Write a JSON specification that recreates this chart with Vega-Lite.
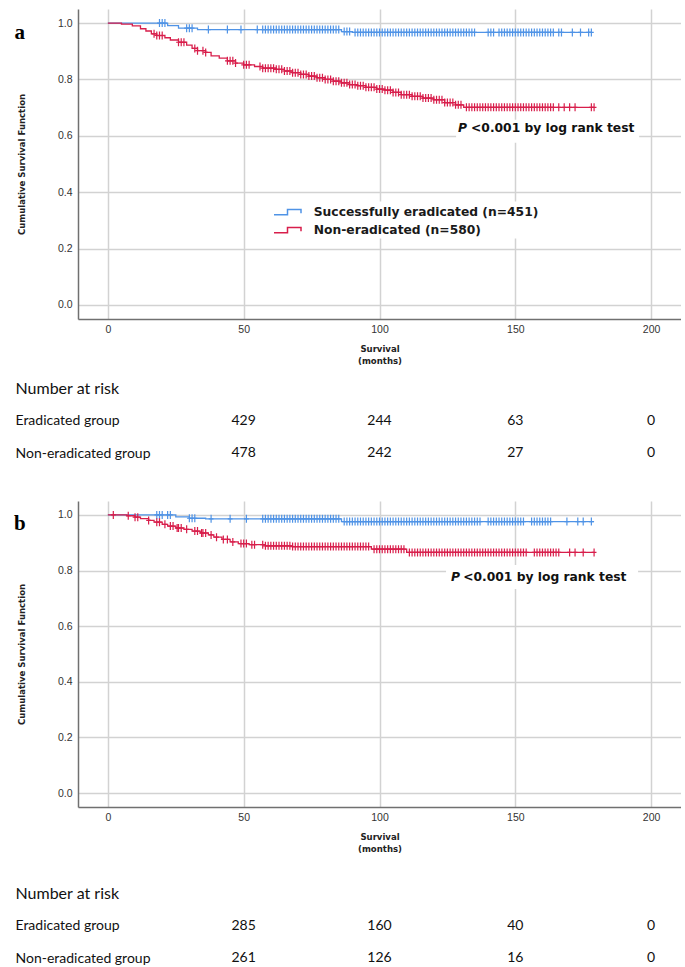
{
"$schema":"https://vega.github.io/schema/vega-lite/v6.json",
"padding":{"left":14,"top":9,"right":0,"bottom":0},
"background":"white",
"config":{"view":{"stroke":null},
"axis":{"gridColor":"#d2d2d2","gridWidth":1.5,"domainColor":"#707070","domainWidth":1.5,"ticks":false,"tickSize":0,"labelFont":"Liberation Sans","labelFontSize":10.5,"labelColor":"#333","titleFont":"Liberation Sans Narrow, DejaVu Sans Condensed, Liberation Sans","titleFontSize":9.5,"titleFontWeight":"bold","titleColor":"#222"}},
"datasets":{
"A":[
{"g":"E","t":0,"s":1,"c":0},{"g":"E","t":22,"s":0.991,"c":0},{"g":"E","t":26,"s":0.982,"c":0},{"g":"E","t":33,"s":0.977,"c":0},{"g":"E","t":86,"s":0.97,"c":0},{"g":"E","t":90,"s":0.967,"c":0},{"g":"E","t":178,"s":0.967,"c":0},
{"g":"E","t":19,"s":1,"c":1},{"g":"E","t":20,"s":1,"c":1},{"g":"E","t":21,"s":1,"c":1},
{"g":"E","t":29,"s":0.982,"c":1},{"g":"E","t":30,"s":0.982,"c":1},{"g":"E","t":31,"s":0.982,"c":1},
{"g":"E","t":37,"s":0.977,"c":1},{"g":"E","t":44,"s":0.977,"c":1},{"g":"E","t":49,"s":0.977,"c":1},{"g":"E","t":55,"s":0.977,"c":1},
{"g":"E","t":57,"s":0.977,"c":1},{"g":"E","t":58,"s":0.977,"c":1},{"g":"E","t":59,"s":0.977,"c":1},{"g":"E","t":60,"s":0.977,"c":1},{"g":"E","t":61,"s":0.977,"c":1},{"g":"E","t":62,"s":0.977,"c":1},{"g":"E","t":63,"s":0.977,"c":1},{"g":"E","t":64,"s":0.977,"c":1},{"g":"E","t":65,"s":0.977,"c":1},{"g":"E","t":66,"s":0.977,"c":1},{"g":"E","t":67,"s":0.977,"c":1},{"g":"E","t":68,"s":0.977,"c":1},{"g":"E","t":69,"s":0.977,"c":1},{"g":"E","t":70,"s":0.977,"c":1},{"g":"E","t":71,"s":0.977,"c":1},{"g":"E","t":72,"s":0.977,"c":1},{"g":"E","t":73,"s":0.977,"c":1},{"g":"E","t":74,"s":0.977,"c":1},{"g":"E","t":75,"s":0.977,"c":1},{"g":"E","t":76,"s":0.977,"c":1},{"g":"E","t":77,"s":0.977,"c":1},{"g":"E","t":78,"s":0.977,"c":1},{"g":"E","t":79,"s":0.977,"c":1},{"g":"E","t":80,"s":0.977,"c":1},{"g":"E","t":81,"s":0.977,"c":1},{"g":"E","t":82,"s":0.977,"c":1},{"g":"E","t":83,"s":0.977,"c":1},{"g":"E","t":84,"s":0.977,"c":1},{"g":"E","t":85,"s":0.977,"c":1},
{"g":"E","t":87,"s":0.97,"c":1},{"g":"E","t":88,"s":0.97,"c":1},{"g":"E","t":89,"s":0.97,"c":1},
{"g":"E","t":91,"s":0.967,"c":1},{"g":"E","t":92,"s":0.967,"c":1},{"g":"E","t":93,"s":0.967,"c":1},{"g":"E","t":94,"s":0.967,"c":1},{"g":"E","t":95,"s":0.967,"c":1},{"g":"E","t":96,"s":0.967,"c":1},{"g":"E","t":97,"s":0.967,"c":1},{"g":"E","t":98,"s":0.967,"c":1},{"g":"E","t":99,"s":0.967,"c":1},{"g":"E","t":100,"s":0.967,"c":1},{"g":"E","t":101,"s":0.967,"c":1},{"g":"E","t":102,"s":0.967,"c":1},{"g":"E","t":103,"s":0.967,"c":1},{"g":"E","t":104,"s":0.967,"c":1},{"g":"E","t":105,"s":0.967,"c":1},{"g":"E","t":106,"s":0.967,"c":1},{"g":"E","t":107,"s":0.967,"c":1},{"g":"E","t":108,"s":0.967,"c":1},{"g":"E","t":109,"s":0.967,"c":1},{"g":"E","t":110,"s":0.967,"c":1},{"g":"E","t":111,"s":0.967,"c":1},{"g":"E","t":112,"s":0.967,"c":1},{"g":"E","t":113,"s":0.967,"c":1},{"g":"E","t":114,"s":0.967,"c":1},{"g":"E","t":115,"s":0.967,"c":1},{"g":"E","t":116,"s":0.967,"c":1},{"g":"E","t":117,"s":0.967,"c":1},{"g":"E","t":118,"s":0.967,"c":1},{"g":"E","t":119,"s":0.967,"c":1},{"g":"E","t":120,"s":0.967,"c":1},{"g":"E","t":121,"s":0.967,"c":1},{"g":"E","t":122,"s":0.967,"c":1},{"g":"E","t":123,"s":0.967,"c":1},{"g":"E","t":124,"s":0.967,"c":1},{"g":"E","t":125,"s":0.967,"c":1},{"g":"E","t":126,"s":0.967,"c":1},{"g":"E","t":127,"s":0.967,"c":1},{"g":"E","t":128,"s":0.967,"c":1},{"g":"E","t":129,"s":0.967,"c":1},{"g":"E","t":130,"s":0.967,"c":1},{"g":"E","t":131,"s":0.967,"c":1},{"g":"E","t":132,"s":0.967,"c":1},{"g":"E","t":133,"s":0.967,"c":1},{"g":"E","t":134,"s":0.967,"c":1},{"g":"E","t":135,"s":0.967,"c":1},
{"g":"E","t":140,"s":0.967,"c":1},{"g":"E","t":141,"s":0.967,"c":1},{"g":"E","t":142,"s":0.967,"c":1},{"g":"E","t":144,"s":0.967,"c":1},{"g":"E","t":145,"s":0.967,"c":1},{"g":"E","t":146,"s":0.967,"c":1},{"g":"E","t":147,"s":0.967,"c":1},{"g":"E","t":148,"s":0.967,"c":1},{"g":"E","t":149,"s":0.967,"c":1},{"g":"E","t":150,"s":0.967,"c":1},{"g":"E","t":151,"s":0.967,"c":1},{"g":"E","t":152,"s":0.967,"c":1},{"g":"E","t":153,"s":0.967,"c":1},{"g":"E","t":154,"s":0.967,"c":1},{"g":"E","t":155,"s":0.967,"c":1},{"g":"E","t":156,"s":0.967,"c":1},{"g":"E","t":157,"s":0.967,"c":1},{"g":"E","t":158,"s":0.967,"c":1},{"g":"E","t":159,"s":0.967,"c":1},{"g":"E","t":160,"s":0.967,"c":1},{"g":"E","t":161,"s":0.967,"c":1},{"g":"E","t":162,"s":0.967,"c":1},{"g":"E","t":163,"s":0.967,"c":1},{"g":"E","t":164,"s":0.967,"c":1},{"g":"E","t":166,"s":0.967,"c":1},{"g":"E","t":167,"s":0.967,"c":1},{"g":"E","t":171,"s":0.967,"c":1},{"g":"E","t":174,"s":0.967,"c":1},{"g":"E","t":177,"s":0.967,"c":1},{"g":"E","t":178,"s":0.967,"c":1},
{"g":"N","t":0,"s":1,"c":0},{"g":"N","t":5,"s":0.996,"c":0},{"g":"N","t":9,"s":0.99,"c":0},{"g":"N","t":12,"s":0.98,"c":0},{"g":"N","t":14,"s":0.972,"c":0},{"g":"N","t":16,"s":0.962,"c":0},{"g":"N","t":18,"s":0.956,"c":0},{"g":"N","t":21,"s":0.948,"c":0},{"g":"N","t":23,"s":0.94,"c":0},{"g":"N","t":26,"s":0.932,"c":0},{"g":"N","t":29,"s":0.922,"c":0},{"g":"N","t":31,"s":0.91,"c":0},{"g":"N","t":33,"s":0.902,"c":0},{"g":"N","t":36,"s":0.896,"c":0},{"g":"N","t":38,"s":0.884,"c":0},{"g":"N","t":41,"s":0.876,"c":0},{"g":"N","t":44,"s":0.866,"c":0},{"g":"N","t":47,"s":0.858,"c":0},{"g":"N","t":50,"s":0.852,"c":0},{"g":"N","t":54,"s":0.846,"c":0},{"g":"N","t":57,"s":0.84,"c":0},{"g":"N","t":62,"s":0.836,"c":0},{"g":"N","t":65,"s":0.83,"c":0},{"g":"N","t":68,"s":0.824,"c":0},{"g":"N","t":71,"s":0.818,"c":0},{"g":"N","t":74,"s":0.812,"c":0},{"g":"N","t":77,"s":0.806,"c":0},{"g":"N","t":80,"s":0.8,"c":0},{"g":"N","t":83,"s":0.794,"c":0},{"g":"N","t":86,"s":0.788,"c":0},{"g":"N","t":89,"s":0.782,"c":0},{"g":"N","t":92,"s":0.778,"c":0},{"g":"N","t":95,"s":0.772,"c":0},{"g":"N","t":99,"s":0.766,"c":0},{"g":"N","t":102,"s":0.762,"c":0},{"g":"N","t":105,"s":0.754,"c":0},{"g":"N","t":108,"s":0.746,"c":0},{"g":"N","t":112,"s":0.74,"c":0},{"g":"N","t":116,"s":0.734,"c":0},{"g":"N","t":120,"s":0.728,"c":0},{"g":"N","t":124,"s":0.718,"c":0},{"g":"N","t":128,"s":0.71,"c":0},{"g":"N","t":131,"s":0.701,"c":0},{"g":"N","t":179,"s":0.701,"c":0},
{"g":"N","t":17,"s":0.962,"c":1},{"g":"N","t":18,"s":0.956,"c":1},{"g":"N","t":19,"s":0.956,"c":1},{"g":"N","t":20,"s":0.956,"c":1},{"g":"N","t":26,"s":0.932,"c":1},{"g":"N","t":27,"s":0.932,"c":1},{"g":"N","t":28,"s":0.932,"c":1},{"g":"N","t":32,"s":0.91,"c":1},{"g":"N","t":33,"s":0.902,"c":1},{"g":"N","t":35,"s":0.902,"c":1},{"g":"N","t":36,"s":0.896,"c":1},{"g":"N","t":44,"s":0.866,"c":1},{"g":"N","t":45,"s":0.866,"c":1},{"g":"N","t":46,"s":0.866,"c":1},{"g":"N","t":47,"s":0.858,"c":1},{"g":"N","t":50,"s":0.852,"c":1},{"g":"N","t":51,"s":0.852,"c":1},{"g":"N","t":52,"s":0.852,"c":1},{"g":"N","t":56,"s":0.846,"c":1},
{"g":"N","t":57,"s":0.84,"c":1},{"g":"N","t":58,"s":0.84,"c":1},{"g":"N","t":59,"s":0.84,"c":1},{"g":"N","t":60,"s":0.84,"c":1},{"g":"N","t":61,"s":0.84,"c":1},{"g":"N","t":62,"s":0.836,"c":1},{"g":"N","t":63,"s":0.836,"c":1},{"g":"N","t":64,"s":0.836,"c":1},{"g":"N","t":65,"s":0.83,"c":1},{"g":"N","t":66,"s":0.83,"c":1},{"g":"N","t":67,"s":0.83,"c":1},{"g":"N","t":68,"s":0.824,"c":1},{"g":"N","t":69,"s":0.824,"c":1},{"g":"N","t":70,"s":0.824,"c":1},{"g":"N","t":71,"s":0.818,"c":1},{"g":"N","t":72,"s":0.818,"c":1},{"g":"N","t":73,"s":0.818,"c":1},{"g":"N","t":74,"s":0.812,"c":1},{"g":"N","t":75,"s":0.812,"c":1},{"g":"N","t":76,"s":0.812,"c":1},{"g":"N","t":77,"s":0.806,"c":1},{"g":"N","t":78,"s":0.806,"c":1},{"g":"N","t":79,"s":0.806,"c":1},{"g":"N","t":80,"s":0.8,"c":1},{"g":"N","t":81,"s":0.8,"c":1},{"g":"N","t":82,"s":0.8,"c":1},{"g":"N","t":83,"s":0.794,"c":1},{"g":"N","t":84,"s":0.794,"c":1},{"g":"N","t":85,"s":0.794,"c":1},{"g":"N","t":86,"s":0.788,"c":1},{"g":"N","t":87,"s":0.788,"c":1},{"g":"N","t":88,"s":0.788,"c":1},{"g":"N","t":89,"s":0.782,"c":1},{"g":"N","t":90,"s":0.782,"c":1},{"g":"N","t":91,"s":0.782,"c":1},{"g":"N","t":92,"s":0.778,"c":1},{"g":"N","t":93,"s":0.778,"c":1},{"g":"N","t":94,"s":0.778,"c":1},{"g":"N","t":95,"s":0.772,"c":1},{"g":"N","t":96,"s":0.772,"c":1},{"g":"N","t":97,"s":0.772,"c":1},{"g":"N","t":98,"s":0.772,"c":1},{"g":"N","t":99,"s":0.766,"c":1},{"g":"N","t":100,"s":0.766,"c":1},{"g":"N","t":101,"s":0.766,"c":1},{"g":"N","t":102,"s":0.762,"c":1},{"g":"N","t":103,"s":0.762,"c":1},{"g":"N","t":104,"s":0.762,"c":1},{"g":"N","t":105,"s":0.754,"c":1},{"g":"N","t":106,"s":0.754,"c":1},{"g":"N","t":107,"s":0.754,"c":1},{"g":"N","t":108,"s":0.746,"c":1},{"g":"N","t":109,"s":0.746,"c":1},{"g":"N","t":110,"s":0.746,"c":1},{"g":"N","t":111,"s":0.746,"c":1},{"g":"N","t":112,"s":0.74,"c":1},{"g":"N","t":113,"s":0.74,"c":1},{"g":"N","t":114,"s":0.74,"c":1},{"g":"N","t":115,"s":0.74,"c":1},{"g":"N","t":116,"s":0.734,"c":1},{"g":"N","t":117,"s":0.734,"c":1},{"g":"N","t":118,"s":0.734,"c":1},{"g":"N","t":119,"s":0.734,"c":1},{"g":"N","t":120,"s":0.728,"c":1},{"g":"N","t":121,"s":0.728,"c":1},{"g":"N","t":122,"s":0.728,"c":1},{"g":"N","t":123,"s":0.728,"c":1},{"g":"N","t":124,"s":0.718,"c":1},{"g":"N","t":125,"s":0.718,"c":1},{"g":"N","t":126,"s":0.718,"c":1},{"g":"N","t":127,"s":0.718,"c":1},{"g":"N","t":128,"s":0.71,"c":1},{"g":"N","t":129,"s":0.71,"c":1},{"g":"N","t":130,"s":0.71,"c":1},
{"g":"N","t":132,"s":0.701,"c":1},{"g":"N","t":133,"s":0.701,"c":1},{"g":"N","t":134,"s":0.701,"c":1},{"g":"N","t":135,"s":0.701,"c":1},{"g":"N","t":136,"s":0.701,"c":1},{"g":"N","t":137,"s":0.701,"c":1},{"g":"N","t":138,"s":0.701,"c":1},{"g":"N","t":139,"s":0.701,"c":1},{"g":"N","t":140,"s":0.701,"c":1},{"g":"N","t":141,"s":0.701,"c":1},{"g":"N","t":142,"s":0.701,"c":1},{"g":"N","t":143,"s":0.701,"c":1},{"g":"N","t":144,"s":0.701,"c":1},{"g":"N","t":145,"s":0.701,"c":1},{"g":"N","t":146,"s":0.701,"c":1},{"g":"N","t":147,"s":0.701,"c":1},{"g":"N","t":148,"s":0.701,"c":1},{"g":"N","t":149,"s":0.701,"c":1},{"g":"N","t":150,"s":0.701,"c":1},{"g":"N","t":151,"s":0.701,"c":1},{"g":"N","t":152,"s":0.701,"c":1},{"g":"N","t":153,"s":0.701,"c":1},{"g":"N","t":154,"s":0.701,"c":1},{"g":"N","t":155,"s":0.701,"c":1},{"g":"N","t":156,"s":0.701,"c":1},{"g":"N","t":157,"s":0.701,"c":1},{"g":"N","t":158,"s":0.701,"c":1},{"g":"N","t":159,"s":0.701,"c":1},{"g":"N","t":160,"s":0.701,"c":1},{"g":"N","t":161,"s":0.701,"c":1},{"g":"N","t":162,"s":0.701,"c":1},{"g":"N","t":163,"s":0.701,"c":1},{"g":"N","t":164,"s":0.701,"c":1},{"g":"N","t":166,"s":0.701,"c":1},{"g":"N","t":168,"s":0.701,"c":1},{"g":"N","t":170,"s":0.701,"c":1},{"g":"N","t":172,"s":0.701,"c":1},{"g":"N","t":178,"s":0.701,"c":1},{"g":"N","t":179,"s":0.701,"c":1}
],
"B":[
{"g":"E","t":0,"s":1,"c":0},{"g":"E","t":25,"s":0.993,"c":0},{"g":"E","t":30,"s":0.988,"c":0},{"g":"E","t":36,"s":0.986,"c":0},{"g":"E","t":86,"s":0.976,"c":0},{"g":"E","t":179,"s":0.976,"c":0},
{"g":"E","t":18,"s":1,"c":1},{"g":"E","t":19,"s":1,"c":1},{"g":"E","t":20,"s":1,"c":1},{"g":"E","t":22,"s":1,"c":1},{"g":"E","t":23,"s":1,"c":1},
{"g":"E","t":30,"s":0.988,"c":1},{"g":"E","t":31,"s":0.988,"c":1},{"g":"E","t":32,"s":0.988,"c":1},
{"g":"E","t":38,"s":0.986,"c":1},{"g":"E","t":45,"s":0.986,"c":1},{"g":"E","t":51,"s":0.986,"c":1},
{"g":"E","t":57,"s":0.986,"c":1},{"g":"E","t":58,"s":0.986,"c":1},{"g":"E","t":59,"s":0.986,"c":1},{"g":"E","t":60,"s":0.986,"c":1},{"g":"E","t":61,"s":0.986,"c":1},{"g":"E","t":62,"s":0.986,"c":1},{"g":"E","t":63,"s":0.986,"c":1},{"g":"E","t":64,"s":0.986,"c":1},{"g":"E","t":65,"s":0.986,"c":1},{"g":"E","t":66,"s":0.986,"c":1},{"g":"E","t":67,"s":0.986,"c":1},{"g":"E","t":68,"s":0.986,"c":1},{"g":"E","t":69,"s":0.986,"c":1},{"g":"E","t":70,"s":0.986,"c":1},{"g":"E","t":71,"s":0.986,"c":1},{"g":"E","t":72,"s":0.986,"c":1},{"g":"E","t":73,"s":0.986,"c":1},{"g":"E","t":74,"s":0.986,"c":1},{"g":"E","t":75,"s":0.986,"c":1},{"g":"E","t":76,"s":0.986,"c":1},{"g":"E","t":77,"s":0.986,"c":1},{"g":"E","t":78,"s":0.986,"c":1},{"g":"E","t":79,"s":0.986,"c":1},{"g":"E","t":80,"s":0.986,"c":1},{"g":"E","t":81,"s":0.986,"c":1},{"g":"E","t":82,"s":0.986,"c":1},{"g":"E","t":83,"s":0.986,"c":1},{"g":"E","t":84,"s":0.986,"c":1},{"g":"E","t":85,"s":0.986,"c":1},
{"g":"E","t":87,"s":0.976,"c":1},{"g":"E","t":88,"s":0.976,"c":1},{"g":"E","t":89,"s":0.976,"c":1},{"g":"E","t":90,"s":0.976,"c":1},{"g":"E","t":91,"s":0.976,"c":1},{"g":"E","t":92,"s":0.976,"c":1},{"g":"E","t":93,"s":0.976,"c":1},{"g":"E","t":94,"s":0.976,"c":1},{"g":"E","t":95,"s":0.976,"c":1},{"g":"E","t":96,"s":0.976,"c":1},{"g":"E","t":97,"s":0.976,"c":1},{"g":"E","t":98,"s":0.976,"c":1},{"g":"E","t":99,"s":0.976,"c":1},{"g":"E","t":100,"s":0.976,"c":1},{"g":"E","t":101,"s":0.976,"c":1},{"g":"E","t":102,"s":0.976,"c":1},{"g":"E","t":103,"s":0.976,"c":1},{"g":"E","t":104,"s":0.976,"c":1},{"g":"E","t":105,"s":0.976,"c":1},{"g":"E","t":106,"s":0.976,"c":1},{"g":"E","t":107,"s":0.976,"c":1},{"g":"E","t":108,"s":0.976,"c":1},{"g":"E","t":109,"s":0.976,"c":1},{"g":"E","t":110,"s":0.976,"c":1},{"g":"E","t":111,"s":0.976,"c":1},{"g":"E","t":112,"s":0.976,"c":1},{"g":"E","t":113,"s":0.976,"c":1},{"g":"E","t":114,"s":0.976,"c":1},{"g":"E","t":115,"s":0.976,"c":1},{"g":"E","t":116,"s":0.976,"c":1},{"g":"E","t":117,"s":0.976,"c":1},{"g":"E","t":118,"s":0.976,"c":1},{"g":"E","t":119,"s":0.976,"c":1},{"g":"E","t":120,"s":0.976,"c":1},{"g":"E","t":121,"s":0.976,"c":1},{"g":"E","t":122,"s":0.976,"c":1},{"g":"E","t":123,"s":0.976,"c":1},{"g":"E","t":124,"s":0.976,"c":1},{"g":"E","t":125,"s":0.976,"c":1},{"g":"E","t":126,"s":0.976,"c":1},{"g":"E","t":127,"s":0.976,"c":1},{"g":"E","t":128,"s":0.976,"c":1},{"g":"E","t":129,"s":0.976,"c":1},{"g":"E","t":130,"s":0.976,"c":1},{"g":"E","t":131,"s":0.976,"c":1},{"g":"E","t":132,"s":0.976,"c":1},{"g":"E","t":133,"s":0.976,"c":1},{"g":"E","t":134,"s":0.976,"c":1},{"g":"E","t":135,"s":0.976,"c":1},{"g":"E","t":136,"s":0.976,"c":1},{"g":"E","t":137,"s":0.976,"c":1},
{"g":"E","t":140,"s":0.976,"c":1},{"g":"E","t":141,"s":0.976,"c":1},{"g":"E","t":142,"s":0.976,"c":1},{"g":"E","t":143,"s":0.976,"c":1},{"g":"E","t":144,"s":0.976,"c":1},{"g":"E","t":145,"s":0.976,"c":1},{"g":"E","t":146,"s":0.976,"c":1},{"g":"E","t":147,"s":0.976,"c":1},{"g":"E","t":148,"s":0.976,"c":1},{"g":"E","t":149,"s":0.976,"c":1},{"g":"E","t":150,"s":0.976,"c":1},{"g":"E","t":151,"s":0.976,"c":1},{"g":"E","t":152,"s":0.976,"c":1},{"g":"E","t":153,"s":0.976,"c":1},
{"g":"E","t":156,"s":0.976,"c":1},{"g":"E","t":157,"s":0.976,"c":1},{"g":"E","t":158,"s":0.976,"c":1},{"g":"E","t":159,"s":0.976,"c":1},{"g":"E","t":160,"s":0.976,"c":1},{"g":"E","t":161,"s":0.976,"c":1},{"g":"E","t":162,"s":0.976,"c":1},{"g":"E","t":163,"s":0.976,"c":1},{"g":"E","t":169,"s":0.976,"c":1},{"g":"E","t":173,"s":0.976,"c":1},{"g":"E","t":175,"s":0.976,"c":1},{"g":"E","t":178,"s":0.976,"c":1},
{"g":"N","t":0,"s":1,"c":0},{"g":"N","t":7,"s":0.997,"c":0},{"g":"N","t":10,"s":0.992,"c":0},{"g":"N","t":12,"s":0.987,"c":0},{"g":"N","t":15,"s":0.98,"c":0},{"g":"N","t":17,"s":0.974,"c":0},{"g":"N","t":20,"s":0.966,"c":0},{"g":"N","t":22,"s":0.96,"c":0},{"g":"N","t":25,"s":0.953,"c":0},{"g":"N","t":28,"s":0.948,"c":0},{"g":"N","t":31,"s":0.942,"c":0},{"g":"N","t":34,"s":0.935,"c":0},{"g":"N","t":37,"s":0.928,"c":0},{"g":"N","t":39,"s":0.92,"c":0},{"g":"N","t":42,"s":0.912,"c":0},{"g":"N","t":45,"s":0.903,"c":0},{"g":"N","t":48,"s":0.897,"c":0},{"g":"N","t":52,"s":0.893,"c":0},{"g":"N","t":58,"s":0.889,"c":0},{"g":"N","t":68,"s":0.886,"c":0},{"g":"N","t":97,"s":0.877,"c":0},{"g":"N","t":110,"s":0.865,"c":0},{"g":"N","t":179,"s":0.865,"c":0},
{"g":"N","t":2,"s":1,"c":1},{"g":"N","t":7.5,"s":0.997,"c":1},{"g":"N","t":10,"s":0.992,"c":1},{"g":"N","t":11,"s":0.992,"c":1},{"g":"N","t":15,"s":0.98,"c":1},{"g":"N","t":18,"s":0.974,"c":1},{"g":"N","t":19,"s":0.974,"c":1},{"g":"N","t":21,"s":0.966,"c":1},{"g":"N","t":23,"s":0.96,"c":1},{"g":"N","t":24,"s":0.96,"c":1},{"g":"N","t":25.5,"s":0.953,"c":1},{"g":"N","t":26,"s":0.953,"c":1},{"g":"N","t":27,"s":0.953,"c":1},{"g":"N","t":29,"s":0.948,"c":1},{"g":"N","t":32,"s":0.942,"c":1},{"g":"N","t":33,"s":0.942,"c":1},{"g":"N","t":34.5,"s":0.935,"c":1},{"g":"N","t":35,"s":0.935,"c":1},{"g":"N","t":36,"s":0.935,"c":1},{"g":"N","t":38,"s":0.928,"c":1},{"g":"N","t":40,"s":0.92,"c":1},{"g":"N","t":42.5,"s":0.912,"c":1},{"g":"N","t":44,"s":0.912,"c":1},{"g":"N","t":46,"s":0.903,"c":1},{"g":"N","t":49,"s":0.897,"c":1},{"g":"N","t":50,"s":0.897,"c":1},{"g":"N","t":51,"s":0.897,"c":1},{"g":"N","t":53,"s":0.893,"c":1},{"g":"N","t":54,"s":0.893,"c":1},{"g":"N","t":57,"s":0.893,"c":1},
{"g":"N","t":58,"s":0.889,"c":1},{"g":"N","t":59,"s":0.889,"c":1},{"g":"N","t":60,"s":0.889,"c":1},{"g":"N","t":61,"s":0.889,"c":1},{"g":"N","t":62,"s":0.889,"c":1},{"g":"N","t":63,"s":0.889,"c":1},{"g":"N","t":64,"s":0.889,"c":1},{"g":"N","t":65,"s":0.889,"c":1},{"g":"N","t":66,"s":0.889,"c":1},{"g":"N","t":67,"s":0.889,"c":1},
{"g":"N","t":68,"s":0.886,"c":1},{"g":"N","t":69,"s":0.886,"c":1},{"g":"N","t":70,"s":0.886,"c":1},{"g":"N","t":71,"s":0.886,"c":1},{"g":"N","t":72,"s":0.886,"c":1},{"g":"N","t":73,"s":0.886,"c":1},{"g":"N","t":74,"s":0.886,"c":1},{"g":"N","t":75,"s":0.886,"c":1},{"g":"N","t":76,"s":0.886,"c":1},{"g":"N","t":77,"s":0.886,"c":1},{"g":"N","t":78,"s":0.886,"c":1},{"g":"N","t":79,"s":0.886,"c":1},{"g":"N","t":80,"s":0.886,"c":1},{"g":"N","t":81,"s":0.886,"c":1},{"g":"N","t":82,"s":0.886,"c":1},{"g":"N","t":83,"s":0.886,"c":1},{"g":"N","t":84,"s":0.886,"c":1},{"g":"N","t":85,"s":0.886,"c":1},{"g":"N","t":86,"s":0.886,"c":1},{"g":"N","t":87,"s":0.886,"c":1},{"g":"N","t":88,"s":0.886,"c":1},{"g":"N","t":89,"s":0.886,"c":1},{"g":"N","t":90,"s":0.886,"c":1},{"g":"N","t":91,"s":0.886,"c":1},{"g":"N","t":92,"s":0.886,"c":1},{"g":"N","t":93,"s":0.886,"c":1},{"g":"N","t":94,"s":0.886,"c":1},{"g":"N","t":95,"s":0.886,"c":1},{"g":"N","t":96,"s":0.886,"c":1},
{"g":"N","t":98,"s":0.877,"c":1},{"g":"N","t":99,"s":0.877,"c":1},{"g":"N","t":100,"s":0.877,"c":1},{"g":"N","t":101,"s":0.877,"c":1},{"g":"N","t":102,"s":0.877,"c":1},{"g":"N","t":103,"s":0.877,"c":1},{"g":"N","t":104,"s":0.877,"c":1},{"g":"N","t":105,"s":0.877,"c":1},{"g":"N","t":106,"s":0.877,"c":1},{"g":"N","t":107,"s":0.877,"c":1},{"g":"N","t":108,"s":0.877,"c":1},{"g":"N","t":109,"s":0.877,"c":1},
{"g":"N","t":111,"s":0.865,"c":1},{"g":"N","t":112,"s":0.865,"c":1},{"g":"N","t":113,"s":0.865,"c":1},{"g":"N","t":114,"s":0.865,"c":1},{"g":"N","t":115,"s":0.865,"c":1},{"g":"N","t":116,"s":0.865,"c":1},{"g":"N","t":117,"s":0.865,"c":1},{"g":"N","t":118,"s":0.865,"c":1},{"g":"N","t":119,"s":0.865,"c":1},{"g":"N","t":120,"s":0.865,"c":1},{"g":"N","t":121,"s":0.865,"c":1},{"g":"N","t":122,"s":0.865,"c":1},{"g":"N","t":123,"s":0.865,"c":1},{"g":"N","t":124,"s":0.865,"c":1},{"g":"N","t":125,"s":0.865,"c":1},{"g":"N","t":126,"s":0.865,"c":1},{"g":"N","t":127,"s":0.865,"c":1},{"g":"N","t":128,"s":0.865,"c":1},{"g":"N","t":129,"s":0.865,"c":1},{"g":"N","t":130,"s":0.865,"c":1},{"g":"N","t":131,"s":0.865,"c":1},{"g":"N","t":132,"s":0.865,"c":1},{"g":"N","t":133,"s":0.865,"c":1},{"g":"N","t":134,"s":0.865,"c":1},{"g":"N","t":135,"s":0.865,"c":1},{"g":"N","t":136,"s":0.865,"c":1},{"g":"N","t":137,"s":0.865,"c":1},{"g":"N","t":138,"s":0.865,"c":1},{"g":"N","t":139,"s":0.865,"c":1},{"g":"N","t":140,"s":0.865,"c":1},{"g":"N","t":141,"s":0.865,"c":1},{"g":"N","t":142,"s":0.865,"c":1},{"g":"N","t":143,"s":0.865,"c":1},{"g":"N","t":144,"s":0.865,"c":1},{"g":"N","t":145,"s":0.865,"c":1},{"g":"N","t":146,"s":0.865,"c":1},{"g":"N","t":147,"s":0.865,"c":1},{"g":"N","t":148,"s":0.865,"c":1},{"g":"N","t":149,"s":0.865,"c":1},{"g":"N","t":150,"s":0.865,"c":1},{"g":"N","t":151,"s":0.865,"c":1},{"g":"N","t":152,"s":0.865,"c":1},{"g":"N","t":153,"s":0.865,"c":1},{"g":"N","t":154,"s":0.865,"c":1},
{"g":"N","t":157,"s":0.865,"c":1},{"g":"N","t":158,"s":0.865,"c":1},{"g":"N","t":159,"s":0.865,"c":1},{"g":"N","t":160,"s":0.865,"c":1},{"g":"N","t":161,"s":0.865,"c":1},{"g":"N","t":162,"s":0.865,"c":1},{"g":"N","t":163,"s":0.865,"c":1},{"g":"N","t":164,"s":0.865,"c":1},{"g":"N","t":165,"s":0.865,"c":1},{"g":"N","t":166,"s":0.865,"c":1},{"g":"N","t":170,"s":0.865,"c":1},{"g":"N","t":172,"s":0.865,"c":1},{"g":"N","t":175,"s":0.865,"c":1},{"g":"N","t":179,"s":0.865,"c":1}
],
"TA":[
{"row":"Eradicated group","t":50,"n":429},{"row":"Eradicated group","t":100,"n":244},{"row":"Eradicated group","t":150,"n":63},{"row":"Eradicated group","t":200,"n":0},
{"row":"Non-eradicated group","t":50,"n":478},{"row":"Non-eradicated group","t":100,"n":242},{"row":"Non-eradicated group","t":150,"n":27},{"row":"Non-eradicated group","t":200,"n":0}
],
"TB":[
{"row":"Eradicated group","t":50,"n":285},{"row":"Eradicated group","t":100,"n":160},{"row":"Eradicated group","t":150,"n":40},{"row":"Eradicated group","t":200,"n":0},
{"row":"Non-eradicated group","t":50,"n":261},{"row":"Non-eradicated group","t":100,"n":126},{"row":"Non-eradicated group","t":150,"n":16},{"row":"Non-eradicated group","t":200,"n":0}
]
},
"spacing":31,
"vconcat":[
{"spacing":7,"vconcat":[
{"width":603,"height":310,
"layer":[
{"data":{"name":"A"},"transform":[{"filter":"datum.c==0"}],
"mark":{"type":"line","interpolate":"step-after","strokeWidth":1.3},
"encoding":{
"x":{"field":"t","type":"quantitative","scale":{"domain":[-11,211],"nice":false,"zero":false},"axis":{"values":[0,50,100,150,200],"title":["Survival","(months)"],"labelPadding":5,"titlePadding":9,"titleLineHeight":12}},
"y":{"field":"s","type":"quantitative","scale":{"domain":[-0.05,1.05],"nice":false,"zero":false},"axis":{"values":[0,0.2,0.4,0.6,0.8,1],"format":".1f","title":"Cumulative Survival Function","labelPadding":6,"titlePadding":31}},
"color":{"field":"g","type":"nominal","scale":{"domain":["E","N"],"range":["#4f93e6","#d81e4b"]},"legend":{"orient":"none","legendX":199.75,"legendY":192.5,"title":null,"symbolType":"M-1.9,0.35H-0.1V-0.35H1.7V0.15","symbolSize":225,"symbolStrokeWidth":1.5,"symbolOpacity":0.6,"labelFont":"DejaVu Sans","labelFontSize":12.3,"labelFontWeight":"bold","labelColor":"#1a1a1a","labelOffset":17,"labelLimit":400,"rowPadding":3,"padding":2,"fillColor":"white","labelExpr":"datum.value=='E'?'Successfully eradicated (n=451)':'Non-eradicated (n=580)'"}},
"order":{"field":"t","type":"quantitative"}}},
{"data":{"name":"A"},"transform":[{"filter":"datum.c==1"}],
"mark":{"type":"point","shape":"M0,-1V1M-0.6,0H0.6","size":64,"filled":false,"strokeWidth":1.2,"opacity":1},
"encoding":{"x":{"field":"t","type":"quantitative"},"y":{"field":"s","type":"quantitative"},"color":{"field":"g","type":"nominal"}}},
{"data":{"values":[{"t":128.2,"t2":195.6,"s":0.657,"s2":0.575}]},
"mark":{"type":"rect","fill":"white"},
"encoding":{"x":{"field":"t","type":"quantitative"},"x2":{"field":"t2"},"y":{"field":"s","type":"quantitative"},"y2":{"field":"s2"}}},
{"data":{"values":[{"t":128.9,"s":0.628,"txt":"P"}]},
"mark":{"type":"text","align":"left","baseline":"middle","font":"DejaVu Sans","fontSize":12.3,"fontWeight":"bold","fontStyle":"italic","color":"#111"},
"encoding":{"x":{"field":"t","type":"quantitative"},"y":{"field":"s","type":"quantitative"},"text":{"field":"txt"}}},
{"data":{"values":[{"t":133.7,"s":0.628,"txt":"<0.001 by log rank test"}]},
"mark":{"type":"text","align":"left","baseline":"middle","font":"DejaVu Sans","fontSize":12.3,"fontWeight":"bold","color":"#111"},
"encoding":{"x":{"field":"t","type":"quantitative"},"y":{"field":"s","type":"quantitative"},"text":{"field":"txt"}}},
{"data":{"values":[{"t":-32.4,"s":0.966,"txt":"a"}]},
"mark":{"type":"text","align":"center","baseline":"middle","font":"Liberation Serif","fontSize":21,"fontWeight":"bold","color":"#000"},
"encoding":{"x":{"field":"t","type":"quantitative"},"y":{"field":"s","type":"quantitative"},"text":{"field":"txt"}}}
]},
{"width":603,"height":97.5,"data":{"name":"TA"},
"mark":{"type":"text","font":"Lato","fontSize":14,"color":"#111","align":"center","baseline":"middle"},
"encoding":{
"x":{"field":"t","type":"quantitative","scale":{"domain":[-11,211],"nice":false,"zero":false},"axis":null},
"y":{"field":"row","type":"ordinal","scale":{"type":"point","domain":["Number at risk","Eradicated group","Non-eradicated group"],"padding":0.5},"axis":{"title":null,"domain":false,"grid":false,"ticks":false,"labelAlign":"left","labelBaseline":"middle","labelPadding":63,"labelFont":"Lato","labelColor":"#111","labelLimit":300,"labelFontSize":{"condition":{"test":"datum.value=='Number at risk'","value":16},"value":14}}},
"text":{"field":"n","type":"quantitative"}}}
]},
{"spacing":24,"vconcat":[
{"width":603,"height":306,
"layer":[
{"data":{"name":"B"},"transform":[{"filter":"datum.c==0"}],
"mark":{"type":"line","interpolate":"step-after","strokeWidth":1.3},
"encoding":{
"x":{"field":"t","type":"quantitative","scale":{"domain":[-11,211],"nice":false,"zero":false},"axis":{"values":[0,50,100,150,200],"title":["Survival","(months)"],"labelPadding":5,"titlePadding":9,"titleLineHeight":12}},
"y":{"field":"s","type":"quantitative","scale":{"domain":[-0.05,1.05],"nice":false,"zero":false},"axis":{"values":[0,0.2,0.4,0.6,0.8,1],"format":".1f","title":"Cumulative Survival Function","labelPadding":6,"titlePadding":31}},
"color":{"field":"g","type":"nominal","scale":{"domain":["E","N"],"range":["#4f93e6","#d81e4b"]},"legend":{"orient":"none","legendX":199.75,"legendY":192.5,"title":null,"symbolType":"M-1.9,0.35H-0.1V-0.35H1.7V0.15","symbolSize":225,"symbolStrokeWidth":1.5,"symbolOpacity":0.6,"labelFont":"DejaVu Sans","labelFontSize":12.3,"labelFontWeight":"bold","labelColor":"#1a1a1a","labelOffset":17,"labelLimit":400,"rowPadding":3,"padding":2,"fillColor":"white","labelExpr":"datum.value=='E'?'Successfully eradicated (n=410)':'Non-eradicated (n=410)'"}},
"order":{"field":"t","type":"quantitative"}}},
{"data":{"name":"B"},"transform":[{"filter":"datum.c==1"}],
"mark":{"type":"point","shape":"M0,-1V1M-0.6,0H0.6","size":64,"filled":false,"strokeWidth":1.2,"opacity":1},
"encoding":{"x":{"field":"t","type":"quantitative"},"y":{"field":"s","type":"quantitative"},"color":{"field":"g","type":"nominal"}}},
{"data":{"values":[{"t":124.5,"t2":195.2,"s":0.82,"s2":0.734}]},
"mark":{"type":"rect","fill":"white"},
"encoding":{"x":{"field":"t","type":"quantitative"},"x2":{"field":"t2"},"y":{"field":"s","type":"quantitative"},"y2":{"field":"s2"}}},
{"data":{"values":[{"t":126.3,"s":0.777,"txt":"P"}]},
"mark":{"type":"text","align":"left","baseline":"middle","font":"DejaVu Sans","fontSize":12.3,"fontWeight":"bold","fontStyle":"italic","color":"#111"},
"encoding":{"x":{"field":"t","type":"quantitative"},"y":{"field":"s","type":"quantitative"},"text":{"field":"txt"}}},
{"data":{"values":[{"t":130.8,"s":0.777,"txt":"<0.001 by log rank test"}]},
"mark":{"type":"text","align":"left","baseline":"middle","font":"DejaVu Sans","fontSize":12.3,"fontWeight":"bold","color":"#111"},
"encoding":{"x":{"field":"t","type":"quantitative"},"y":{"field":"s","type":"quantitative"},"text":{"field":"txt"}}},
{"data":{"values":[{"t":-32.4,"s":0.968,"txt":"b"}]},
"mark":{"type":"text","align":"center","baseline":"middle","font":"Liberation Serif","fontSize":21,"fontWeight":"bold","color":"#000"},
"encoding":{"x":{"field":"t","type":"quantitative"},"y":{"field":"s","type":"quantitative"},"text":{"field":"txt"}}}
]},
{"width":603,"height":97.5,"data":{"name":"TB"},
"mark":{"type":"text","font":"Lato","fontSize":14,"color":"#111","align":"center","baseline":"middle"},
"encoding":{
"x":{"field":"t","type":"quantitative","scale":{"domain":[-11,211],"nice":false,"zero":false},"axis":null},
"y":{"field":"row","type":"ordinal","scale":{"type":"point","domain":["Number at risk","Eradicated group","Non-eradicated group"],"padding":0.5},"axis":{"title":null,"domain":false,"grid":false,"ticks":false,"labelAlign":"left","labelBaseline":"middle","labelPadding":63,"labelFont":"Lato","labelColor":"#111","labelLimit":300,"labelFontSize":{"condition":{"test":"datum.value=='Number at risk'","value":16},"value":14}}},
"text":{"field":"n","type":"quantitative"}}}
]}
]
}
